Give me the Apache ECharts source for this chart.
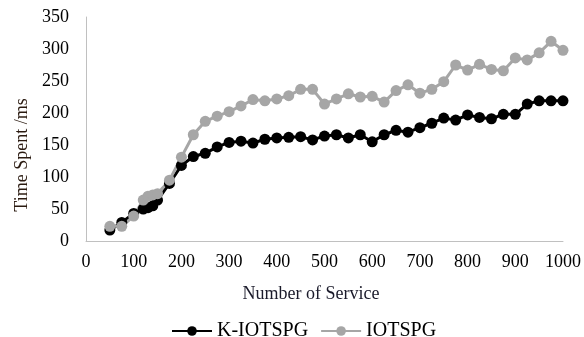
<!DOCTYPE html>
<html><head><meta charset="utf-8">
<script src="https://cdn.jsdelivr.net/npm/echarts@6/dist/echarts.min.js"></script>
<style>html,body{margin:0;padding:0;background:#fff}#c{width:584px;height:337px}</style>
</head><body><div id="c"></div>
<script>
var services = [50,75,100,120,130,140,150,175,200,225,250,275,300,325,350,375,400,425,450,475,500,525,550,575,600,625,650,675,700,725,750,775,800,825,850,875,900,925,950,975,1000];
var kIotspg = [17,29,43,50,52,55,64,90,118,132,137,147,154,156,153,159,161,162,163,158,164,166,161,166,155,166,173,170,177,184,192,189,197,193,191,198,198,214,219,219,219];
var iotspg = [23,23,39,64,70,72,74,95,131,166,187,195,202,211,221,219,222,227,237,237,214,222,230,225,226,217,235,244,231,237,249,275,267,276,268,266,286,283,294,312,298];
var seriesNames = ['K-IOTSPG','IOTSPG'];
var xTitle = 'Number of Service';
var yTitle = 'Time Spent /ms';

function pairs(xs, ys){ return xs.map(function(x,i){return [x, ys[i]];}); }
var font = 'Liberation Serif, Times New Roman, serif';
var chart = echarts.init(document.getElementById('c'));
chart.setOption({
  animation:false,
  grid:{left:86,right:20,top:17,bottom:96,containLabel:false},
  legend:{top:316,left:166,itemWidth:40,itemHeight:12,itemGap:12,
    textStyle:{fontFamily:font,fontSize:20,color:'#000'},data:seriesNames},
  xAxis:{type:'value',min:0,max:1000,interval:100,
    axisLine:{lineStyle:{color:'#c0c0c0',width:1}},axisTick:{show:false},splitLine:{show:false},
    axisLabel:{fontFamily:font,fontSize:18,color:'#000',margin:12,formatter:function(v){return String(v);}}},
  yAxis:{type:'value',min:0,max:350,interval:50,
    axisLine:{show:true,lineStyle:{color:'#c0c0c0',width:1}},axisTick:{show:false},splitLine:{show:false},
    axisLabel:{fontFamily:font,fontSize:18,color:'#000',margin:17}},
  graphic:[
    {type:'text',x:311,y:294,style:{text:xTitle,font:'18px '+font,fill:'#1a1a2a',align:'center',verticalAlign:'middle'}},
    {type:'text',x:22,y:155,rotation:Math.PI/2,style:{text:yTitle,font:'18px '+font,fill:'#2a1a10',align:'center',verticalAlign:'middle'}}
  ],
  series:[
    {name:seriesNames[0],type:'line',data:pairs(services,kIotspg),symbol:'circle',symbolSize:11,
      lineStyle:{color:'#000',width:3},itemStyle:{color:'#000'}},
    {name:seriesNames[1],type:'line',data:pairs(services,iotspg),symbol:'circle',symbolSize:11,
      lineStyle:{color:'#a6a6a6',width:3},itemStyle:{color:'#a6a6a6'}}
  ]
});
</script></body></html>
